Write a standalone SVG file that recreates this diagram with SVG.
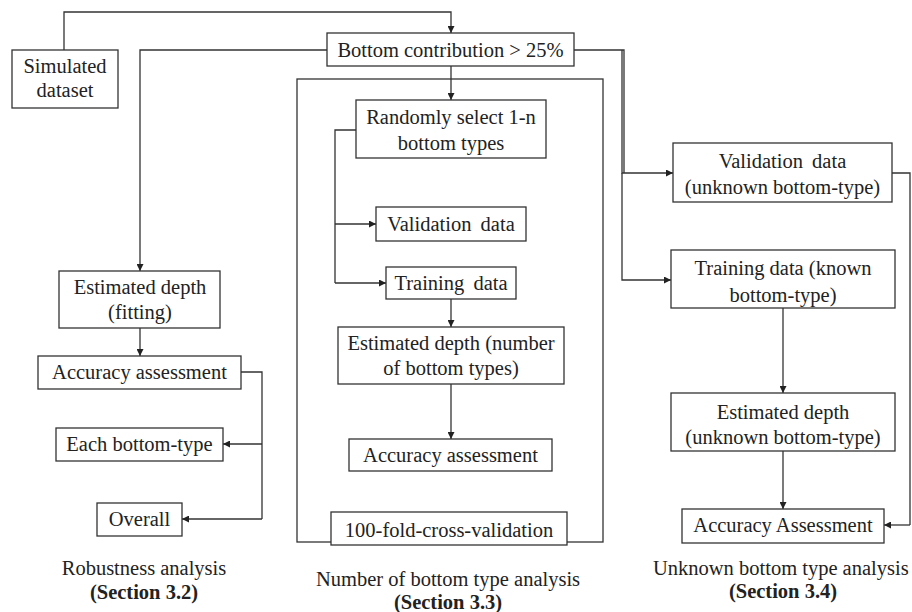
<svg xmlns="http://www.w3.org/2000/svg" width="912" height="612" viewBox="0 0 912 612">
<defs>
<marker id="ah" viewBox="0 0 10 10" refX="10" refY="5" markerWidth="7" markerHeight="7" markerUnits="userSpaceOnUse" orient="auto">
<path d="M0,0 L10,5 L0,10 z" fill="#222"/>
</marker>
</defs>
<style>
rect.n{fill:#fff;stroke:#333;stroke-width:1.3}
text{font-size:20.5px;fill:#222;text-anchor:middle}
text.b{font-weight:bold}
#connectors path{fill:none;stroke:#333;stroke-width:1.3}
#connectors path.a{marker-end:url(#ah)}
</style>
<rect width="912" height="612" fill="#fff"/>
<g font-family="'Liberation Serif', 'DejaVu Serif', serif">
<g id="frame"><rect x="297" y="79" width="306" height="463" fill="none" stroke="#333" stroke-width="1.3"/></g>
<g id="connectors">
<path class="a" d="M64,50 V12 H451 V33"/>
<path class="a" d="M327,50 H140 V271"/>
<path class="a" d="M140,328 V356"/>
<path d="M241,372 H262 V519"/>
<path class="a" d="M262,444 H223"/>
<path class="a" d="M262,519 H182"/>
<path class="a" d="M451,66 V100"/>
<path d="M356,130 H335 V283"/>
<path class="a" d="M335,224 H376"/>
<path class="a" d="M335,283 H386"/>
<path class="a" d="M451,299 V327"/>
<path class="a" d="M451,384 V439"/>
<path d="M574,50 H624 V173"/>
<path class="a" d="M622,50 V173 H673"/>
<path class="a" d="M622,173 V280 H671"/>
<path d="M892,173 H910 V525"/>
<path class="a" d="M910,525 H884"/>
<path class="a" d="M783,308 V393"/>
<path class="a" d="M783,451 V509"/>
</g>
<g id="simulated"><rect class="n" x="12" y="50" width="106" height="58"/><text x="65" y="73">Simulated</text><text x="65" y="97">dataset</text></g>
<g id="bottom-contribution"><rect class="n" x="327" y="33" width="247" height="33"/><text x="450.5" y="57">Bottom contribution &gt; 25%</text></g>
<g id="est-fitting"><rect class="n" x="59" y="271" width="161" height="57"/><text x="140" y="294">Estimated depth</text><text x="140" y="319">(fitting)</text></g>
<g id="acc-left"><rect class="n" x="38" y="356" width="203" height="33"/><text x="139.5" y="379">Accuracy assessment</text></g>
<g id="each-bottom"><rect class="n" x="56" y="428" width="167" height="33"/><text x="139.5" y="451">Each bottom-type</text></g>
<g id="overall"><rect class="n" x="97" y="503" width="85" height="33"/><text x="139.5" y="526">Overall</text></g>
<g id="label-32"><text x="144" y="575">Robustness analysis</text><text class="b" x="144" y="599">(Section 3.2)</text></g>
<g id="randomly"><rect class="n" x="356" y="100" width="190" height="58"/><text x="451" y="124">Randomly select 1-n</text><text x="451" y="150">bottom types</text></g>
<g id="validation"><rect class="n" x="376" y="207" width="150" height="34"/><text x="451" y="231" word-spacing="4">Validation data</text></g>
<g id="training"><rect class="n" x="386" y="267" width="130" height="32"/><text x="451" y="290" word-spacing="4">Training data</text></g>
<g id="est-number"><rect class="n" x="338" y="327" width="226" height="57"/><text x="451" y="350">Estimated depth (number</text><text x="451" y="375">of bottom types)</text></g>
<g id="acc-mid"><rect class="n" x="349" y="439" width="203" height="32"/><text x="450.5" y="462">Accuracy assessment</text></g>
<g id="fold"><rect class="n" x="331" y="512" width="236" height="33"/><text x="449" y="537">100-fold-cross-validation</text></g>
<g id="label-33"><text x="448" y="586">Number of bottom type analysis</text><text class="b" x="448" y="609">(Section 3.3)</text></g>
<g id="val-unknown"><rect class="n" x="673" y="143" width="219" height="59"/><text x="782.5" y="168" word-spacing="4">Validation data</text><text x="782.5" y="194">(unknown bottom-type)</text></g>
<g id="train-known"><rect class="n" x="671" y="250" width="224" height="58"/><text x="783" y="275">Training data (known</text><text x="783" y="302">bottom-type)</text></g>
<g id="est-unknown"><rect class="n" x="671" y="393" width="224" height="58"/><text x="783" y="419">Estimated depth</text><text x="783" y="444">(unknown bottom-type)</text></g>
<g id="acc-right"><rect class="n" x="682" y="509" width="202" height="34"/><text x="783" y="532">Accuracy Assessment</text></g>
<g id="label-34"><text x="653" y="575" style="text-anchor:start">Unknown bottom type analysis</text><text class="b" x="783" y="598">(Section 3.4)</text></g>
</g>
</svg>
